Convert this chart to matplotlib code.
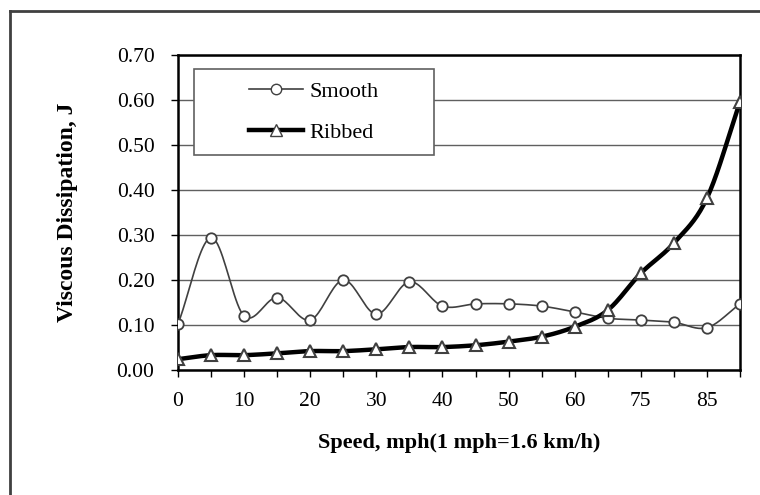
"""
viscous dissipation vs speed, smooth vs ribbed
"""
import numpy as np
from matplotlib import pyplot as plt
from matplotlib.lines import Line2D
from matplotlib.patches import Rectangle

speed_cats = ['0', '5', '10', '15', '20', '25', '30', '35', '40', '45', '50',
              '55', '60', '70', '75', '80', '85', '90']
smooth = [0.102, 0.294, 0.120, 0.161, 0.111, 0.200, 0.124, 0.196, 0.142, 0.147,
          0.147, 0.142, 0.129, 0.115, 0.111, 0.106, 0.094, 0.147]
ribbed = [0.024, 0.033, 0.033, 0.037, 0.042, 0.042, 0.046, 0.051, 0.051, 0.055,
          0.063, 0.074, 0.096, 0.133, 0.215, 0.282, 0.382, 0.596]


def smooth_curve(x, y, n=20):
    # catmull-rom style curve through the points, like excel's smoothed line
    x = np.asarray(x, float)
    y = np.asarray(y, float)
    px = np.concatenate([[2 * x[0] - x[1]], x, [2 * x[-1] - x[-2]]])
    py = np.concatenate([[2 * y[0] - y[1]], y, [2 * y[-1] - y[-2]]])
    xs, ys = [], []
    t = np.linspace(0, 1, n, endpoint=False)
    for i in range(1, len(px) - 2):
        for p, out in ((px, xs), (py, ys)):
            p0, p1, p2, p3 = p[i - 1], p[i], p[i + 1], p[i + 2]
            out.extend(0.5 * ((2 * p1) + (-p0 + p2) * t
                              + (2 * p0 - 5 * p1 + 4 * p2 - p3) * t ** 2
                              + (-p0 + 3 * p1 - 3 * p2 + p3) * t ** 3))
    xs.append(x[-1])
    ys.append(y[-1])
    return np.array(xs), np.array(ys)


plt.rcParams['font.family'] = ['Liberation Serif', 'DejaVu Serif']
plt.rcParams['font.size'] = 15.5

fig = plt.figure(figsize=(7.6, 4.95), dpi=100)
ax = fig.add_axes([178 / 760, 1 - 370 / 495, 562 / 760, 315 / 495])

x = np.arange(len(speed_cats))
sx, sy = smooth_curve(x, smooth)
rx, ry = smooth_curve(x, ribbed)

ax.plot(sx, sy, color='#404040', lw=1.2, zorder=3)
ax.plot(x, smooth, ls='none', marker='o', ms=7.5, mfc='white', mec='#404040', mew=1.3, zorder=4)
ax.plot(rx, ry, color='black', lw=3.2, zorder=3)
ax.plot(x, ribbed, ls='none', marker='^', ms=9, mfc='white', mec='#404040', mew=1.5, zorder=4)

ax.set_xlim(0, len(speed_cats) - 1)
ax.set_ylim(0, 0.70)
ax.set_yticks(np.arange(0, 0.71, 0.1))
ax.set_yticklabels([f'{v:.2f}' for v in np.arange(0, 0.71, 0.1)])
ax.set_xticks(x)
ax.set_xticklabels([c if i % 2 == 0 else '' for i, c in enumerate(speed_cats)])
ax.tick_params(axis='both', direction='out', length=5, width=1, color='black')
ax.tick_params(axis='y', pad=12)
ax.tick_params(axis='x', pad=11)
ax.yaxis.grid(True, color='#606060', lw=1)
ax.set_axisbelow(True)
for s in ax.spines.values():
    s.set_color('black')
    s.set_linewidth(1.8)

ax.set_ylabel('Viscous Dissipation, J', fontweight='bold', fontsize=17, labelpad=28)
ax.set_xlabel('Speed, mph(1 mph=1.6 km/h)', fontweight='bold', fontsize=16, labelpad=16)

# legend frame, white box over the grid
x0, x1 = (194 - 178) / 562, (434 - 178) / 562
y0, y1 = (370 - 155) / 315, (370 - 69) / 315
ax.add_patch(Rectangle((x0, y0), x1 - x0, y1 - y0, transform=ax.transAxes,
                       facecolor='white', edgecolor='#606060', lw=1.2, zorder=2.5))

handles = [Line2D([], [], color='#404040', lw=1.2, marker='o', ms=7.5, mfc='white', mec='#404040'),
           Line2D([], [], color='black', lw=3.2, marker='^', ms=9, mfc='white', mec='#404040')]
leg = ax.legend(handles, ['Smooth', 'Ribbed'], loc='center',
                bbox_to_anchor=((x0 + x1) / 2, (y0 + y1) / 2),
                frameon=False, fontsize=16, labelspacing=0.9, handlelength=2.4,
                handletextpad=0.3, borderpad=0, borderaxespad=0)
leg.set_zorder(5)

# outer frame lines of the figure (only top/left visible)
fig.add_artist(Line2D([10 / 760, 10 / 760], [0, 1 - 11 / 495], color='#404040', lw=2,
                      transform=fig.transFigure))
fig.add_artist(Line2D([10 / 760, 1], [1 - 11 / 495, 1 - 11 / 495], color='#404040', lw=2,
                      transform=fig.transFigure))

plt.savefig('out.png', dpi=100)
plt.close('all')
